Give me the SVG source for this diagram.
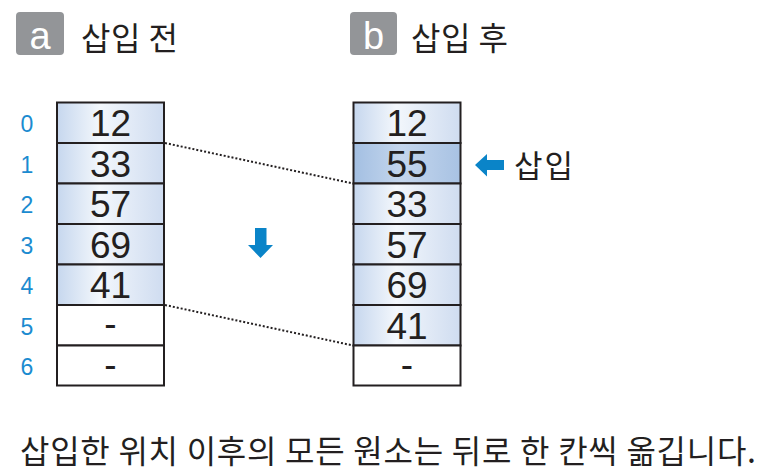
<svg xmlns="http://www.w3.org/2000/svg" width="766" height="476" viewBox="0 0 766 476">
<defs>
<linearGradient id="cellG" x1="0" y1="0" x2="1" y2="0">
<stop offset="0" stop-color="#c6d7ee"/>
<stop offset="0.4" stop-color="#f3f7fc"/>
<stop offset="1" stop-color="#cfdcf0"/>
</linearGradient>
<linearGradient id="cellH" x1="0" y1="0" x2="1" y2="0">
<stop offset="0" stop-color="#a3bfe2"/>
<stop offset="0.45" stop-color="#c4d6ed"/>
<stop offset="1" stop-color="#a8c2e3"/>
</linearGradient>
<style>
.cell{stroke:#231f20;stroke-width:2}
.g{fill:url(#cellG)}
.h{fill:url(#cellH)}
.w{fill:#ffffff}
.num{font-family:"Liberation Sans",Arial,sans-serif;font-size:37px;fill:#231f20;text-anchor:middle}
.idx{font-family:"Liberation Sans",Arial,sans-serif;font-size:23px;fill:#1b8bd0;text-anchor:middle}
.ko{font-family:"Noto Sans CJK KR","Noto Sans",sans-serif;fill:#231f20}
.badge{fill:#939598}
.bl{font-family:"Liberation Sans",Arial,sans-serif;font-size:38px;fill:#ffffff;text-anchor:middle}
.dot{stroke:#231f20;stroke-width:2;stroke-dasharray:2 2;fill:none}
.arr{fill:#0a84c8}
</style>
</defs>

<g id="header-a">
<rect class="badge" x="16" y="12" width="48" height="43" rx="4"/>
<text class="bl" x="40" y="49">a</text>
<text class="ko" x="81" y="50" font-size="32" textLength="97" lengthAdjust="spacing">삽입 전</text>
</g>
<g id="header-b">
<rect class="badge" x="350" y="12" width="47" height="43" rx="4"/>
<text class="bl" x="373.5" y="49">b</text>
<text class="ko" x="411" y="50" font-size="32" textLength="97" lengthAdjust="spacing">삽입 후</text>
</g>

<g id="indices">
<text class="idx" x="27" y="132">0</text>
<text class="idx" x="27" y="172.5">1</text>
<text class="idx" x="27" y="213">2</text>
<text class="idx" x="27" y="253.5">3</text>
<text class="idx" x="27" y="294">4</text>
<text class="idx" x="27" y="334.5">5</text>
<text class="idx" x="27" y="375">6</text>
</g>

<g id="array-before">
<rect class="cell g" x="57" y="102.5" width="107" height="40.5"/>
<rect class="cell g" x="57" y="143" width="107" height="40.5"/>
<rect class="cell g" x="57" y="183.5" width="107" height="40.5"/>
<rect class="cell g" x="57" y="224" width="107" height="40.5"/>
<rect class="cell g" x="57" y="264.5" width="107" height="40.5"/>
<rect class="cell w" x="57" y="305" width="107" height="40.5"/>
<rect class="cell w" x="57" y="345.5" width="107" height="40"/>
<text class="num" x="110.5" y="136">12</text>
<text class="num" x="110.5" y="176.5">33</text>
<text class="num" x="110.5" y="217">57</text>
<text class="num" x="110.5" y="257.5">69</text>
<text class="num" x="110.5" y="298">41</text>
<text class="num" x="110.5" y="336">-</text>
<text class="num" x="110.5" y="376.5">-</text>
</g>

<g id="array-after">
<rect class="cell g" x="353.5" y="102.5" width="107" height="40.5"/>
<rect class="cell h" x="353.5" y="143" width="107" height="40.5"/>
<rect class="cell g" x="353.5" y="183.5" width="107" height="40.5"/>
<rect class="cell g" x="353.5" y="224" width="107" height="40.5"/>
<rect class="cell g" x="353.5" y="264.5" width="107" height="40.5"/>
<rect class="cell g" x="353.5" y="305" width="107" height="40.5"/>
<rect class="cell w" x="353.5" y="345.5" width="107" height="40"/>
<text class="num" x="407" y="136">12</text>
<text class="num" x="407" y="176.5">55</text>
<text class="num" x="407" y="217">33</text>
<text class="num" x="407" y="257.5">57</text>
<text class="num" x="407" y="298">69</text>
<text class="num" x="407" y="338.5">41</text>
<text class="num" x="407" y="376.5">-</text>
</g>

<g id="connectors">
<line class="dot" x1="165" y1="143" x2="353" y2="183.5"/>
<line class="dot" x1="165" y1="305" x2="353" y2="345.5"/>
</g>

<g id="shift-arrow">
<polygon class="arr" points="255,228 266.5,228 266.5,245 273,245 260.5,258 248,245 255,245"/>
</g>

<g id="insert-marker">
<polygon class="arr" points="475,165 487,154 487,160 504,160 504,170 487,170 487,176.5"/>
<text class="ko" x="514" y="177" font-size="31" textLength="59" lengthAdjust="spacing">삽입</text>
</g>

<g id="caption">
<text class="ko" x="20" y="463" font-size="32" textLength="736" lengthAdjust="spacing">삽입한 위치 이후의 모든 원소는 뒤로 한 칸씩 옮깁니다.</text>
</g>
</svg>
